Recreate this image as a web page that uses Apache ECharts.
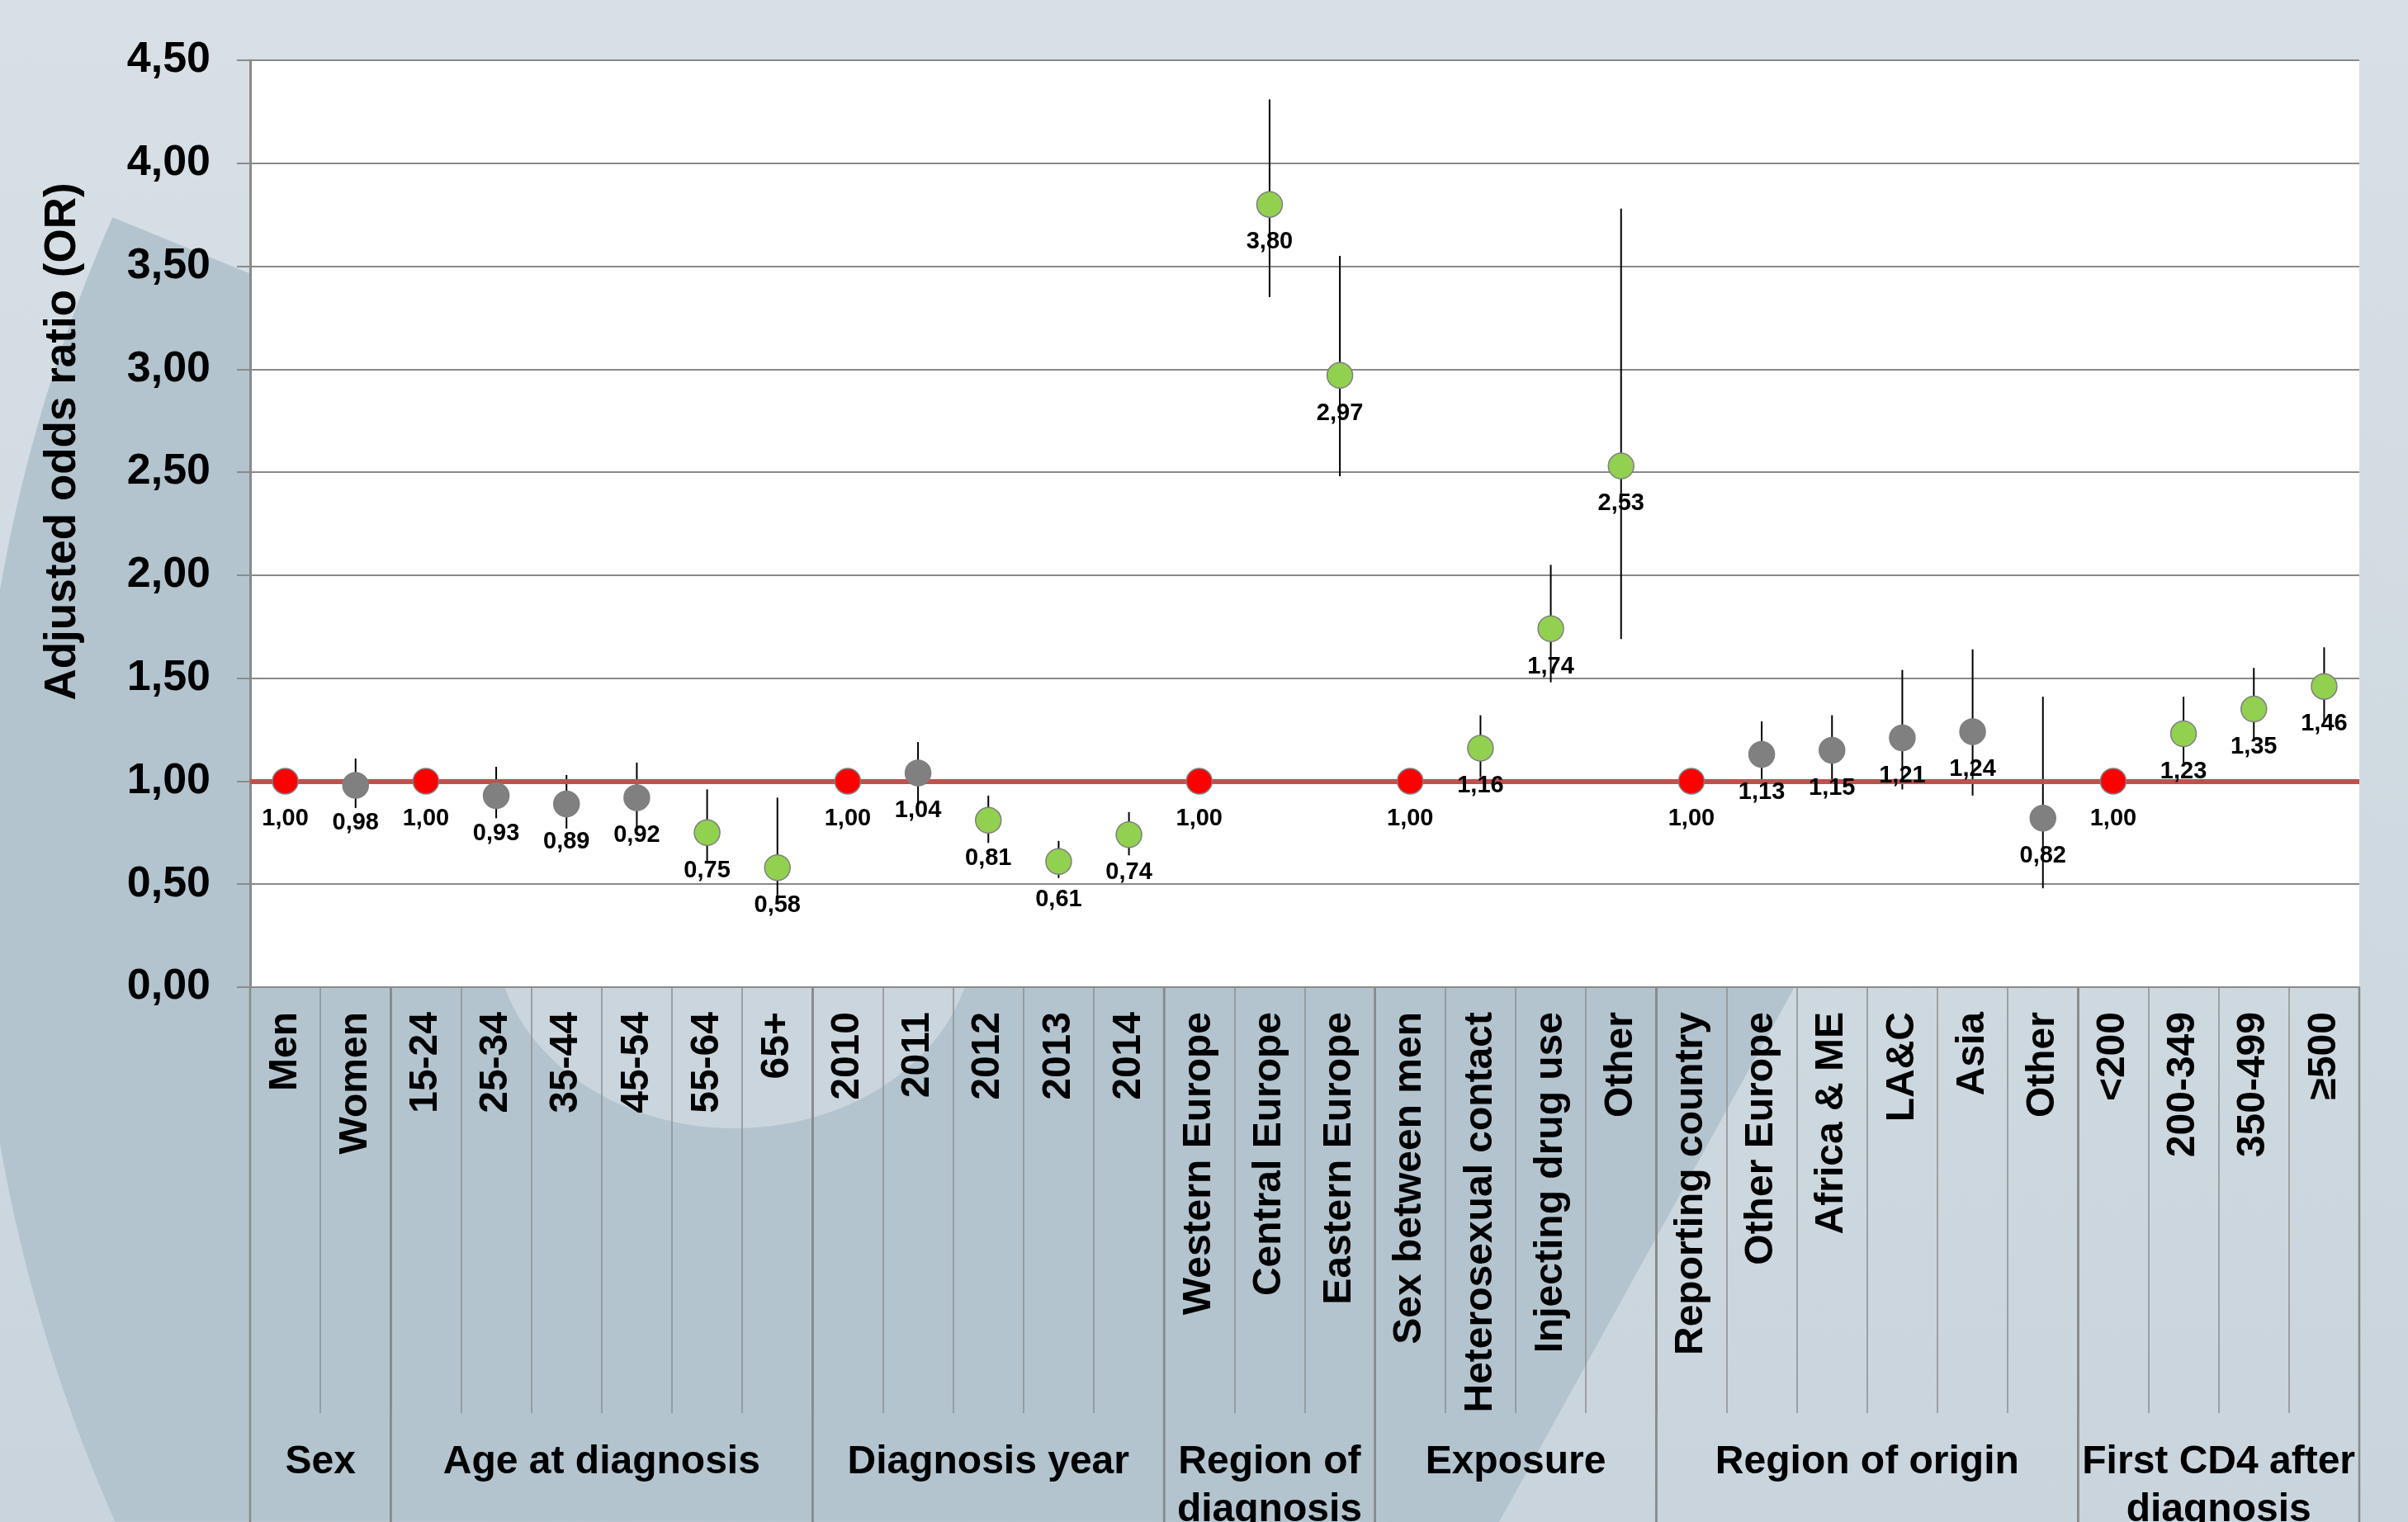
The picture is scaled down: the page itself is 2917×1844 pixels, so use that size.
<!DOCTYPE html>
<html><head><meta charset="utf-8">
<script src="https://cdn.jsdelivr.net/npm/echarts@6/dist/echarts.min.js"></script>
<style>html,body{margin:0;padding:0;background:#d4dce2}#c{width:2917px;height:1844px}</style>
</head><body><div id="c"></div>
<script>
const categories = ['Men','Women','15-24','25-34','35-44','45-54','55-64','65+','2010','2011','2012','2013','2014','Western Europe','Central Europe','Eastern Europe','Sex between men','Heterosexual contact','Injecting drug use','Other','Reporting country','Other Europe','Africa & ME','LA&C','Asia','Other','<200','200-349','350-499','≥500'];
const oddsRatio = [1.00,0.98,1.00,0.93,0.89,0.92,0.75,0.58,1.00,1.04,0.81,0.61,0.74,1.00,3.80,2.97,1.00,1.16,1.74,2.53,1.00,1.13,1.15,1.21,1.24,0.82,1.00,1.23,1.35,1.46];
const ciLower = [null,0.87,null,0.82,0.77,0.77,0.61,0.44,null,0.89,0.70,0.53,0.64,null,3.35,2.48,null,1.02,1.48,1.69,null,0.99,1.01,0.96,0.93,0.48,null,1.09,1.20,1.28];
const ciUpper = [null,1.11,null,1.07,1.03,1.09,0.96,0.92,null,1.19,0.93,0.71,0.85,null,4.31,3.55,null,1.32,2.05,3.78,null,1.29,1.32,1.54,1.64,1.41,null,1.41,1.55,1.65];
const significance = ['ref','ns','ref','ns','ns','ns','sig','sig','ref','ns','sig','sig','sig','ref','sig','sig','ref','sig','sig','sig','ref','ns','ns','ns','ns','ns','ref','sig','sig','sig'];
const groupNames = ['Sex','Age at diagnosis','Diagnosis year','Region of\ndiagnosis','Exposure','Region of origin','First CD4 after\ndiagnosis'];
const groupStart = [0,2,8,13,16,20,26];
const groupEnd = [1,7,12,15,19,25,29];
const yMin = 0, yMax = 4.5, yInterval = 0.5;
const referenceValue = 1;

const FONT = '"Liberation Sans", Arial, sans-serif';
const colorMap = {ref:'#ff0000', ns:'#808080', sig:'#92d050'};
const fmt = v => v.toFixed(2).replace('.', ',');

// decorative background swoosh (not data)
const W = 2917, H = 1844;
const cx = 1925, cy = 1050, R = 1954;
const arcPts = [];
const a0 = Math.atan2(1844 - cy, 138 - cx), a1 = Math.atan2(263 - cy, 136 - cx) + 2 * Math.PI;
for (let k = 0; k <= 80; k++) {
  const a = a0 + (a1 - a0) * k / 80;
  arcPts.push([cx + R * Math.cos(a), cy + R * Math.sin(a)]);
}
const swoosh = arcPts.concat([[2218, 1116], [1816, 1844]]);

const chart = echarts.init(document.getElementById('c'), null, {renderer: 'canvas'});
chart.setOption({
  animation: false,
  graphic: [
    {type: 'rect', z: -100, silent: true, shape: {x: 0, y: 0, width: W, height: H},
      style: {fill: {type: 'linear', x: 0, y: 0, x2: 0, y2: 1, colorStops: [{offset: 0, color: '#d8e0e6'}, {offset: 1, color: '#c9d4dc'}]}}},
    {type: 'polygon', z: -90, silent: true, shape: {points: swoosh}, style: {fill: '#b3c4cf'}},
    {type: 'ellipse', z: -80, silent: true, shape: {cx: 890, cy: 1130, rx: 290, ry: 237}, style: {fill: '#cbd5dd'}},
    {type: 'text', z: 10, x: 76, y: 535, rotation: Math.PI / 2,
      style: {text: 'Adjusted odds ratio (OR)', fontSize: 53, fontWeight: 'bold', fontFamily: FONT, fill: '#000', align: 'center', verticalAlign: 'middle'}}
  ],
  grid: {left: 303, right: 59, top: 73, bottom: 648, show: true, backgroundColor: '#ffffff', borderWidth: 0, outerBoundsMode: 'none'},
  xAxis: {
    type: 'category', data: categories, boundaryGap: true,
    axisLine: {show: true, lineStyle: {color: '#8a8a8a', width: 2}},
    axisTick: {show: true, interval: 0, length: 516, lineStyle: {color: '#8f8f8f', width: 1.5}},
    axisLabel: {interval: 0, rotate: 90, margin: 30, fontSize: 48, fontWeight: 'bold', fontFamily: FONT, color: '#000'},
    splitLine: {show: false}
  },
  yAxis: {
    type: 'value', min: yMin, max: yMax, interval: yInterval,
    axisLine: {show: true, lineStyle: {color: '#8a8a8a', width: 3}},
    axisTick: {show: true, length: 16, lineStyle: {color: '#8a8a8a', width: 2}},
    axisLabel: {margin: 48, fontSize: 52, fontWeight: 'bold', fontFamily: FONT, color: '#000', formatter: v => fmt(v)},
    splitLine: {show: true, lineStyle: {color: '#898989', width: 2}}
  },
  series: [
    {
      type: 'custom', name: 'groups', silent: true, clip: false, z: 1,
      data: groupStart.map((s, i) => [s, 0, groupEnd[i]]),
      renderItem: (params, api) => {
        const s = api.value(0), e = api.value(2);
        const bw = api.size([1, 0])[0];
        const x0 = api.coord([s, 0])[0] - bw / 2;
        const x1 = api.coord([e, 0])[0] + bw / 2;
        const y0 = api.coord([s, 0])[1];
        const h = api.getHeight();
        return {type: 'group', children: [
          {type: 'line', shape: {x1: x0, y1: y0, x2: x0, y2: h}, style: {stroke: '#8a8a8a', lineWidth: 2.5}},
          {type: 'line', shape: {x1: x1, y1: y0, x2: x1, y2: h}, style: {stroke: '#8a8a8a', lineWidth: 2.5}},
          {type: 'text', x: (x0 + x1) / 2, y: y0 + 547, style: {text: groupNames[params.dataIndex], fill: '#000', fontSize: 48, fontWeight: 'bold', fontFamily: FONT, align: 'center', verticalAlign: 'top', lineHeight: 58}}
        ]};
      }
    },
    {
      type: 'custom', name: 'ci', silent: true, z: 2,
      data: categories.map((c, i) => [i, ciLower[i], ciUpper[i]]).filter(d => d[1] != null),
      renderItem: (params, api) => {
        const i = api.value(0);
        const p1 = api.coord([i, api.value(1)]);
        const p2 = api.coord([i, api.value(2)]);
        return {type: 'line', shape: {x1: p1[0], y1: p1[1], x2: p2[0], y2: p2[1]}, style: {stroke: '#000', lineWidth: 2}};
      },
      markLine: {
        silent: true, symbol: 'none', label: {show: false},
        lineStyle: {color: '#c0504d', width: 6, type: 'solid'},
        data: [{yAxis: referenceValue}]
      }
    },
    {
      type: 'scatter', name: 'OR', z: 5, symbol: 'circle', symbolSize: 31,
      data: oddsRatio.map((v, i) => ({value: [i, v], itemStyle: {color: colorMap[significance[i]], borderColor: '#7f7f7f', borderWidth: 1.5, opacity: 1}})),
      label: {show: true, position: 'bottom', distance: 15, fontSize: 29, fontWeight: 'bold', fontFamily: FONT, color: '#000',
        formatter: p => fmt(p.value[1])}
    }
  ]
});
</script></body></html>
